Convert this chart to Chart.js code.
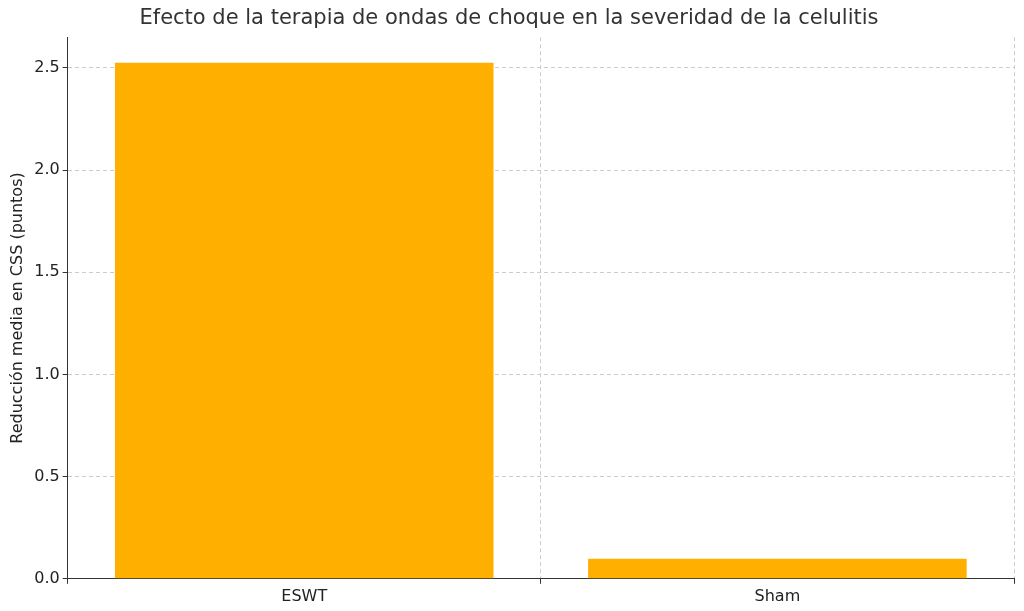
<!DOCTYPE html>
<html><head><meta charset="utf-8">
<script src="https://cdn.jsdelivr.net/npm/chart.js@4"></script>
<style>html,body{margin:0;padding:0;background:#fff}#w{width:1024px;height:611px}</style>
</head><body><div id="w"><canvas id="c"></canvas></div>
<script>
const categories = ["ESWT", "Sham"];
const values = [2.525, 0.098];
const yTicks = [0, 0.5, 1.0, 1.5, 2.0, 2.5];
const font = "'DejaVu Sans', sans-serif";
new Chart(document.getElementById('c'), {
  type: 'bar',
  data: { labels: categories, datasets: [{ data: values, backgroundColor: '#FFAF00', barPercentage: 0.8, categoryPercentage: 1.0 }] },
  options: {
    responsive: true, maintainAspectRatio: false, animation: false,
    layout: { padding: { left: 4, right: 10, top: 0, bottom: 2 } },
    plugins: {
      legend: { display: false },
      title: { display: true, text: 'Efecto de la terapia de ondas de choque en la severidad de la celulitis', color: '#333', font: { family: font, size: 21, weight: 'normal' }, padding: { top: 6, bottom: 6 } }
    },
    scales: {
      x: {
        grid: { color: '#ccc', borderDash: [4, 3], tickLength: 5, tickColor: '#333' },
        border: { color: '#333', dash: [4, 3] },
        ticks: { color: '#222', font: { family: font, size: 16 } }
      },
      y: {
        min: 0, max: 2.65,
        afterBuildTicks: a => { a.ticks = yTicks.map(v => ({ value: v })); },
        grid: { color: '#ccc', tickLength: 5, tickColor: '#333' },
        border: { color: '#333', dash: [4, 3] },
        ticks: { color: '#222', font: { family: font, size: 16 }, callback: v => v.toFixed(1) },
        title: { display: true, text: 'Reducción media en CSS (puntos)', color: '#222', font: { family: font, size: 16 } }
      }
    }
  }
});
</script></body></html>
